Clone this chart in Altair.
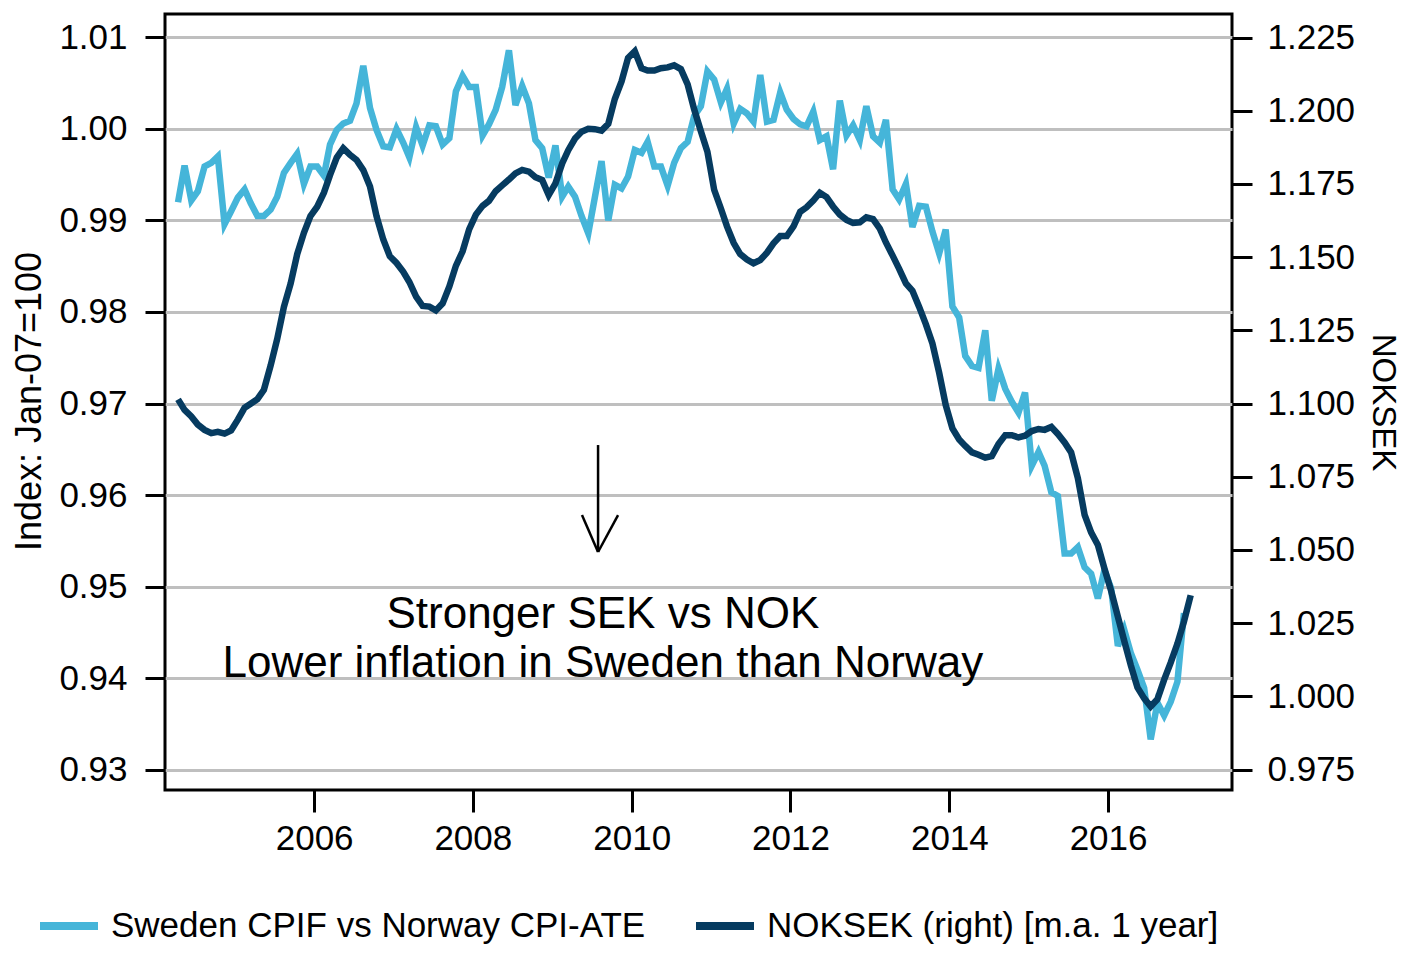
import altair as alt
import pandas as pd

# ---------------- data ----------------
se_values = [0.9920, 0.9960, 0.9922, 0.9932, 0.9959, 0.9963, 0.9970, 0.9896, 0.9910, 0.9925,
             0.9934, 0.9919, 0.9905, 0.9905, 0.9912, 0.9926, 0.9952, 0.9963, 0.9973, 0.9940,
             0.9959, 0.9959, 0.9949, 0.9983, 0.9999, 1.0006, 1.0009, 1.0028, 1.0069, 1.0023,
             0.9999, 0.9981, 0.9980, 1.0000, 0.9985, 0.9969, 1.0002, 0.9982, 1.0004, 1.0003,
             0.9983, 0.9990, 1.0041, 1.0058, 1.0046, 1.0046, 0.9993, 1.0005, 1.0021, 1.0046,
             1.0086, 1.0026, 1.0047, 1.0028, 0.9988, 0.9979, 0.9947, 0.9982, 0.9926, 0.9937,
             0.9926, 0.9905, 0.9886, 0.9925, 0.9965, 0.9900, 0.9939, 0.9935, 0.9948, 0.9977,
             0.9974, 0.9986, 0.9959, 0.9959, 0.9938, 0.9963, 0.9979, 0.9986, 1.0014, 1.0025,
             1.0063, 1.0054, 1.0029, 1.0044, 1.0006, 1.0022, 1.0017, 1.0008, 1.0059, 1.0008,
             1.0010, 1.0040, 1.0021, 1.0011, 1.0005, 1.0003, 1.0019, 0.9988, 0.9992, 0.9956,
             1.0031, 0.9993, 1.0004, 0.9988, 1.0025, 0.9992, 0.9985, 1.0010, 0.9934, 0.9923,
             0.9940, 0.9893, 0.9916, 0.9915, 0.9888, 0.9864, 0.9890, 0.9806, 0.9794, 0.9752,
             0.9741, 0.9739, 0.9780, 0.9703, 0.9738, 0.9716, 0.9702, 0.9690, 0.9712, 0.9632,
             0.9647, 0.9632, 0.9603, 0.9599, 0.9536, 0.9536, 0.9543, 0.9521, 0.9514, 0.9487,
             0.9518, 0.9498, 0.9435, 0.9453, 0.9427, 0.9409, 0.9389, 0.9333, 0.9373, 0.9359,
             0.9374, 0.9396, 0.9471]

nok_values = [1.1014, 1.0978, 1.0956, 1.0928, 1.0910, 1.0899, 1.0903, 1.0897, 1.0908, 1.0945,
              1.0985, 1.0999, 1.1015, 1.1047, 1.1130, 1.1220, 1.1330, 1.1410, 1.1510, 1.1583,
              1.1640, 1.1672, 1.1720, 1.1780, 1.1840, 1.1872, 1.1849, 1.1832, 1.1797, 1.1741,
              1.1640, 1.1560, 1.1503, 1.1480, 1.1450, 1.1415, 1.1365, 1.1333, 1.1331, 1.1318,
              1.1342, 1.1400, 1.1470, 1.1520, 1.1595, 1.1645, 1.1675, 1.1692, 1.1725, 1.1745,
              1.1765, 1.1786, 1.1798, 1.1792, 1.1773, 1.1763, 1.1712, 1.1752, 1.1820, 1.1865,
              1.1905, 1.1928, 1.1938, 1.1937, 1.1932, 1.1955, 1.2040, 1.2100, 1.2180, 1.2203,
              1.2145, 1.2137, 1.2137, 1.2145, 1.2148, 1.2155, 1.2142, 1.2090, 1.2005, 1.1930,
              1.1860, 1.1730, 1.1666, 1.1605, 1.1548, 1.1510, 1.1492, 1.1479, 1.1490, 1.1515,
              1.1547, 1.1572, 1.1572, 1.1605, 1.1655, 1.1670, 1.1693, 1.1720, 1.1705, 1.1673,
              1.1645, 1.1627, 1.1617, 1.1619, 1.1636, 1.1630, 1.1597, 1.1550, 1.1505, 1.1460,
              1.1410, 1.1385, 1.1330, 1.1270, 1.1205, 1.1105, 1.0995, 1.0915, 1.0877, 1.0855,
              1.0833, 1.0825, 1.0815, 1.0820, 1.0862, 1.0892, 1.0892, 1.0884, 1.0890, 1.0906,
              1.0913, 1.0910, 1.0920, 1.0896, 1.0867, 1.0833, 1.0745, 1.0620, 1.0560, 1.0517,
              1.0437, 1.0360, 1.0272, 1.0190, 1.0105, 1.0030, 0.9993, 0.9965, 0.9990, 1.0057,
              1.0115, 1.0180, 1.0255, 1.0345]

series_names = ["Sweden CPIF vs Norway CPI-ATE", "NOKSEK (right) [m.a. 1 year]"]
series_colors = ["#45b5d9", "#063b60"]

left_ticks = [0.93, 0.94, 0.95, 0.96, 0.97, 0.98, 0.99, 1.00, 1.01]
right_ticks = [0.975, 1.000, 1.025, 1.050, 1.075, 1.100, 1.125, 1.150, 1.175, 1.200, 1.225]
x_tick_years = [2006, 2008, 2010, 2012, 2014, 2016]

annot_lines = ["Stronger SEK vs NOK", "Lower inflation in Sweden than Norway"]
annot_dates = ["2009-08-21", "2009-08-21"]
annot_vals = [0.94546, 0.94011]

# arrow segments (data coordinates)
arrow_x = ["2009-07-30", "2009-05-17", "2009-10-30"]
arrow_y = [0.96546, 0.95781, 0.95781]
arrow_x2 = ["2009-07-30", "2009-07-30", "2009-07-30"]
arrow_y2 = [0.95377, 0.95377, 0.95377]

# ---------------- frames ----------------
def month_dates(n):
    return pd.date_range("2004-04-01", periods=n, freq="MS") + pd.Timedelta(days=14)

df_se = pd.DataFrame({"date": month_dates(len(se_values)), "value": se_values,
                      "series": series_names[0]})
df_nok = pd.DataFrame({"date": month_dates(len(nok_values)), "value": nok_values,
                       "series": series_names[1]})
df_txt = pd.DataFrame({"date": pd.to_datetime(annot_dates), "value": annot_vals,
                       "text": annot_lines})
df_arrow = pd.DataFrame({"x": pd.to_datetime(arrow_x), "y": arrow_y,
                         "x2": pd.to_datetime(arrow_x2), "y2": arrow_y2})

FONT = "Liberation Sans"
LEFT_DOMAIN = [0.92776, 1.012568]
RIGHT_DOMAIN = [0.9680, 1.233026]
x_scale = alt.Scale(domain=[alt.DateTime(year=2004, month=2, date=15),
                            alt.DateTime(year=2017, month=7, date=24)])
color_scale = alt.Scale(domain=series_names, range=series_colors)

x_axis = alt.Axis(values=[alt.DateTime(year=y, month=1, date=1) for y in x_tick_years],
                  format="%Y", title=None, grid=False, domain=False,
                  tickSize=22, tickWidth=3, tickColor="black",
                  labelFontSize=35, labelPadding=9, labelFlush=False, labelColor="black")

left_axis = alt.Axis(values=left_ticks, format=".2f", title="Index: Jan-07=100",
                     grid=True, gridColor="#bfbfbf", gridWidth=3, domain=False,
                     tickSize=20, tickWidth=3, tickColor="black",
                     labelFontSize=35, labelPadding=18, labelColor="black", labelOverlap=False,
                     titleFontSize=36, titleFontWeight="normal", titleColor="black",
                     titleAngle=-90, titleX=-136, titleY=387, titleAlign="center",
                     titleBaseline="middle")

right_axis = alt.Axis(values=right_ticks, format=".3f", title="NOKSEK", orient="right",
                      grid=False, domain=False,
                      tickSize=20, tickWidth=3, tickColor="black",
                      labelFontSize=35, labelPadding=15, labelColor="black", labelOverlap=False,
                      titleFontSize=33, titleFontWeight="normal", titleColor="black",
                      titleAngle=90, titleX=150, titleY=388, titleAlign="center",
                      titleBaseline="middle")

legend = alt.Legend(orient="none", legendX=-129, legendY=879, direction="horizontal",
                    title=None, symbolType="stroke", symbolSize=3364, symbolStrokeWidth=8,
                    labelFontSize=35, labelFont=FONT, labelColor="black", labelLimit=0,
                    columnPadding=34, labelOffset=9)

se_line = alt.Chart(df_se).mark_line(strokeWidth=6.5).encode(
    x=alt.X("date:T", scale=x_scale, axis=x_axis),
    y=alt.Y("value:Q", scale=alt.Scale(domain=LEFT_DOMAIN, nice=False, zero=False), axis=left_axis),
    color=alt.Color("series:N", scale=color_scale, legend=legend),
)

arrow = alt.Chart(df_arrow).mark_rule(strokeWidth=2.5, color="black").encode(
    x=alt.X("x:T", scale=x_scale),
    x2="x2:T",
    y=alt.Y("y:Q", scale=alt.Scale(domain=LEFT_DOMAIN, nice=False, zero=False)),
    y2="y2:Q",
)

text = alt.Chart(df_txt).mark_text(font=FONT, fontSize=44, align="center",
                                   baseline="alphabetic", color="black").encode(
    x=alt.X("date:T", scale=x_scale),
    y=alt.Y("value:Q", scale=alt.Scale(domain=LEFT_DOMAIN, nice=False, zero=False)),
    text="text:N",
)

nok_line = alt.Chart(df_nok).mark_line(strokeWidth=6.5).encode(
    x=alt.X("date:T", scale=x_scale, axis=x_axis),
    y=alt.Y("value:Q", scale=alt.Scale(domain=RIGHT_DOMAIN, nice=False, zero=False), axis=right_axis),
    color=alt.Color("series:N", scale=color_scale, legend=legend),
)

left = alt.layer(se_line, arrow, text)

chart = alt.layer(left, nok_line).resolve_scale(y="independent").properties(
    width=1067, height=776,
    padding={"left": 157, "top": 6, "right": 170, "bottom": 157},
    autosize=alt.AutoSizeParams(type="none"),
    background="white",
).configure_view(stroke="black", strokeWidth=3).configure_axis(
    labelFont=FONT, titleFont=FONT
)

chart.save("out.html", embed_options={"renderer": "svg", "actions": False})
